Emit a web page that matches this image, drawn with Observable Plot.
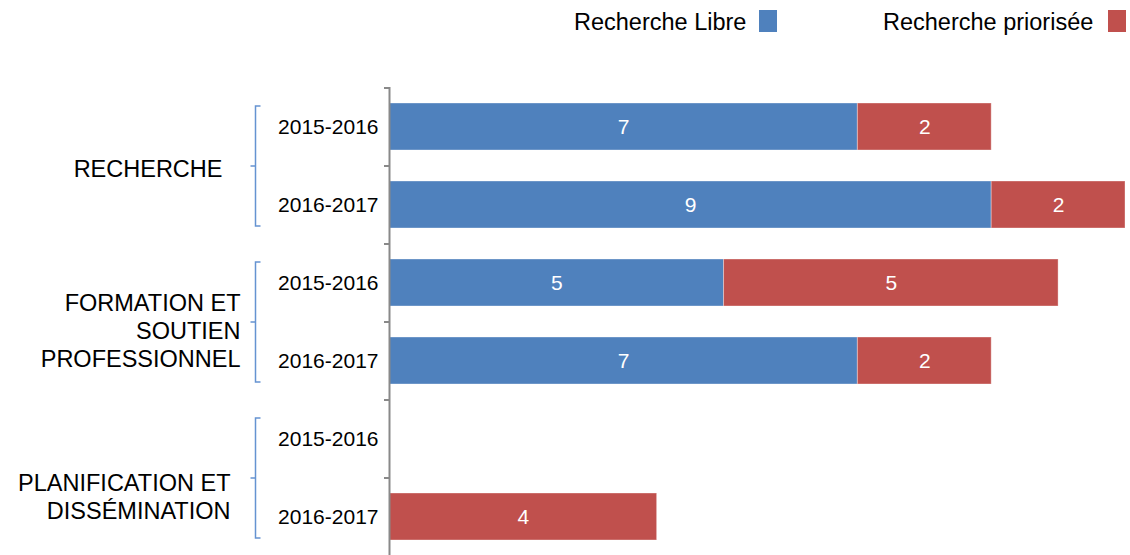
<!DOCTYPE html>
<html><head><meta charset="utf-8">
<script src="https://cdn.jsdelivr.net/npm/d3@7"></script>
<script src="https://cdn.jsdelivr.net/npm/@observablehq/plot@0.6"></script>
<style>
body{margin:0;background:#fff;font-family:"Liberation Sans",Arial,sans-serif;}
#legend{position:relative;width:1130px;height:45px;}
.lt{position:absolute;top:11px;font-size:23.5px;line-height:1;color:#000;white-space:nowrap}
.sw{position:absolute;top:10px;width:18px;height:22px}
</style></head><body>
<div id="legend"></div>
<div id="chart"></div>
<script>
const groups = ["RECHERCHE", "FORMATION ET\nSOUTIEN\nPROFESSIONNEL", "PLANIFICATION ET\nDISSÉMINATION"];
const years = ["2015-2016", "2016-2017"];
const series = ["Recherche Libre", "Recherche priorisée"];
const colors = ["#4f81bd", "#c0504d"];
const libre = [7, 9, 5, 7, 0, 0];
const priorisee = [2, 2, 5, 2, 0, 4];

const rows = groups.flatMap((g, gi) => years.map(y => `${gi}|${y}`));
const data = rows.flatMap((r, i) => [
  {row: r, series: series[0], value: libre[i]},
  {row: r, series: series[1], value: priorisee[i]}
]).filter(d => d.value > 0);

// legend (HTML)
const legend = document.getElementById("legend");
const legendPos = [{t: 574, s: 759}, {t: 883, s: 1108}];
series.forEach((s, i) => {
  const t = document.createElement("span");
  t.className = "lt"; t.textContent = s; t.style.left = legendPos[i].t + "px";
  legend.appendChild(t);
  const sw = document.createElement("span");
  sw.className = "sw"; sw.style.left = legendPos[i].s + "px"; sw.style.background = colors[i];
  legend.appendChild(sw);
});

const bracket = {
  draw(ctx) {
    ctx.moveTo(5, -60); ctx.lineTo(0, -60); ctx.lineTo(0, 60); ctx.lineTo(5, 60);
    ctx.moveTo(0, 0); ctx.lineTo(-5, 0);
  }
};

const labelStyle = [
  {dx: -167, dy: 41},
  {dx: -149, dy: 47},
  {dx: -159, dy: 57}
];

const chart = Plot.plot({
  width: 1130, height: 510,
  marginLeft: 389, marginRight: 5, marginTop: 42, marginBottom: 0,
  style: {fontFamily: "'Liberation Sans', Arial, sans-serif", fontSize: "21px", color: "#000", background: "#fff"},
  x: {domain: [0, 11], axis: null},
  y: {domain: rows, paddingInner: 0.4, paddingOuter: 0.2, axis: null},
  color: {domain: series, range: colors},
  marks: [
    Plot.barX(data, {x: "value", y: "row", fill: "series", stroke: "#fff", strokeOpacity: 0.35, strokeWidth: 1}),
    Plot.text(data, Plot.stackX({x: "value", y: "row", z: "series", text: d => String(d.value), fill: "white", fontSize: 21})),
    Plot.ruleX([0], {stroke: "#898989", strokeWidth: 2}),
    Plot.axisY({tickSize: 5, dy: -39, tickFormat: () => "", stroke: "#898989", strokeWidth: 2, label: null}),
    Plot.axisY({tickSize: 0, tickPadding: 11, tickFormat: d => d.split("|")[1], fontSize: 21, label: null}),
    Plot.dot(groups, {y: (d, i) => rows[i * 2], frameAnchor: "left", dx: -134, dy: 39, symbol: bracket, stroke: "#6593d1", strokeWidth: 1.5, fill: "none"}),
    ...groups.map((g, i) => Plot.text([g], {
      y: () => rows[i * 2], text: d => d, frameAnchor: "left", textAnchor: "end",
      dx: labelStyle[i].dx, dy: labelStyle[i].dy, fontSize: 23.5, lineHeight: 1.2, fill: "#000"
    }))
  ]
});
document.getElementById("chart").appendChild(chart);
</script>
</body></html>
